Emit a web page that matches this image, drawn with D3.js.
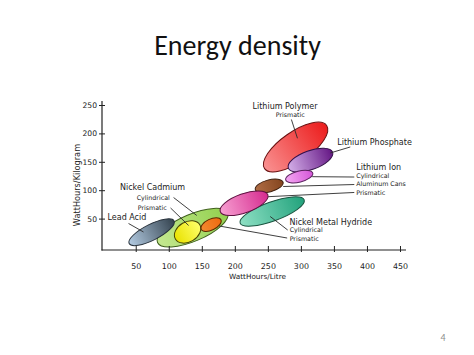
<!DOCTYPE html>
<html>
<head>
<meta charset="utf-8">
<script src="https://cdn.jsdelivr.net/npm/d3@7"></script>
<style>
  html, body { margin: 0; padding: 0; background: #fff; }
  svg { display: block; }
  text { font-family: "DejaVu Sans", sans-serif; fill: #222; }
</style>
</head>
<body>
<svg id="chart" width="474" height="355"></svg>
<script>
// ---- data (Wh/L on x, Wh/kg on y) ----
const xTicks = [50, 100, 150, 200, 250, 300, 350, 400, 450];
const yTicks = [50, 100, 150, 200, 250];

// each ellipse: major-axis endpoints [Wh/L low, high], [Wh/kg low, high], half-thickness (Wh/kg)
const ellipseNames = ["Nickel Cadmium", "Lead Acid", "NiCd Cylindrical", "NiCd Prismatic",
  "Nickel Metal Hydride", "Li-ion Aluminum Cans", "Li-ion Prismatic", "Lithium Polymer",
  "Lithium Phosphate", "Li-ion Cylindrical"];
const ellipseWhL  = [[83, 189], [40, 108], [110, 147], [149, 179], [208, 305], [231, 273], [178, 250], [245, 339], [281, 348], [277, 318]];
const ellipseWhKg = [[8, 60], [6, 46], [14, 39], [31, 48], [42, 83], [101, 114], [62, 92], [138, 214], [139, 167], [118, 130]];
const ellipseHalfWidth = [23.8, 14, 17.6, 9.7, 16.7, 10.6, 16.7, 26.4, 16.7, 9.7];

// label texts with anchor positions in data units
const labelTexts = ["Lithium Polymer", "Lithium Phosphate", "Lithium Ion", "Nickel Metal Hydride", "Nickel Cadmium", "Lead Acid"];
const labelAt = [[226.8, 243.8], [355, 178.7], [383.8, 135.6], [282.7, 38.7], [26.2, 100.4], [7.3, 46.7]];
const subTexts = ["Prismatic", "Cylindrical", "Aluminum Cans", "Prismatic", "Cylindrical", "Prismatic", "Cylindrical", "Prismatic"];
const subAt = [[262, 228.9], [383.8, 121.1], [383.8, 106.9], [383.8, 92.4], [283, 25.9], [283, 11.4], [51.5, 83.6], [53, 66]];
// leader lines: [fromWhL, fromWhKg, toWhL, toWhKg]
const leaders = [
  [285.6, 224.5, 294.8, 191.4],
  [344.4, 165.5, 374.7, 176.1],
  [317.1, 123.8, 380.8, 123.2],
  [273.2, 106.5, 380.8, 110],
  [250.5, 88.6, 380.8, 96],
  [253.5, 53.7, 280, 29.9],
  [176.2, 37, 279.2, 15.8],
  [107.3, 87.1, 142.4, 55.5],
  [102.7, 68.7, 130, 37.9],
  [39.1, 41.4, 61.8, 26.4]
];

// ---- styles ----
const fills = [
  ["#c4e890", "#92d04e"], ["#b3cbe2", "#34434f"], ["#e9e200", "#ffff6a"], ["#f28a30", "#ee6a10"],
  ["#8ee0c4", "#22a27c"], ["#b06d45", "#84451f"], ["#f7a0d2", "#d62b8f"], ["#f99090", "#ec1c1c"],
  ["#d3aee8", "#641684"], ["#f4a8f2", "#d456d8"]
];
const strokes = ["#3f5f1c", "#28323c", "#4a4500", "#5a2800", "#17533f", "#3e2010", "#5e1040", "#6a1010", "#33104a", "#5a205e"];

const svg = d3.select("#chart");
const x = d3.scaleLinear().domain([0, 450]).range([102.7, 400]);
const y = d3.scaleLinear().domain([0, 250]).range([247, 105]);
const axisY = 250;

// title
svg.append("text").attr("x", 237.5).attr("y", 55).attr("text-anchor", "middle")
  .style("font-family", "Carlito, 'Liberation Sans', Arial, sans-serif").style("font-size", "28px").style("fill", "#111")
  .text("Energy density");
svg.append("text").attr("x", 443).attr("y", 341).attr("text-anchor", "middle")
  .style("font-family", "Carlito, 'Liberation Sans', Arial, sans-serif").style("font-size", "10px").style("fill", "#8c8c8c")
  .text("4");

// gradients
const defs = svg.append("defs");
fills.forEach((f, i) => {
  const g = defs.append("linearGradient").attr("id", "g" + i).attr("x1", 0).attr("x2", 1).attr("y1", 0).attr("y2", 0);
  g.append("stop").attr("offset", "0%").attr("stop-color", f[0]);
  g.append("stop").attr("offset", "100%").attr("stop-color", f[1]);
});

// ellipses
const plot = svg.append("g");
ellipseNames.forEach((n, i) => {
  const x1 = x(ellipseWhL[i][0]), x2 = x(ellipseWhL[i][1]);
  const y1 = y(ellipseWhKg[i][0]), y2 = y(ellipseWhKg[i][1]);
  const cx = (x1 + x2) / 2, cy = (y1 + y2) / 2;
  const rx = Math.hypot(x2 - x1, y2 - y1) / 2;
  const ang = Math.atan2(y2 - y1, x2 - x1) * 180 / Math.PI;
  const ry = y(0) - y(ellipseHalfWidth[i]);
  plot.append("g").attr("transform", `translate(${cx},${cy}) rotate(${ang})`)
    .append("ellipse").attr("rx", rx).attr("ry", ry)
    .attr("fill", `url(#g${i})`).attr("stroke", strokes[i]).attr("stroke-width", 1);
});

// leader lines
svg.append("g").selectAll("line").data(leaders).join("line")
  .attr("x1", d => x(d[0])).attr("y1", d => y(d[1]))
  .attr("x2", d => x(d[2])).attr("y2", d => y(d[3]))
  .attr("stroke", "#2a2a2a").attr("stroke-width", 0.9);

// labels
svg.append("g").selectAll("text").data(labelTexts).join("text")
  .attr("x", (d, i) => x(labelAt[i][0])).attr("y", (d, i) => y(labelAt[i][1]))
  .style("font-size", "8px").text(d => d);
svg.append("g").selectAll("text").data(subTexts).join("text")
  .attr("x", (d, i) => x(subAt[i][0])).attr("y", (d, i) => y(subAt[i][1]))
  .style("font-size", "6.3px").style("fill", "#1a1a1a").text(d => d);

// axes
const xAxis = d3.axisBottom(x).tickValues(xTicks).tickSize(4).tickPadding(9);
const gx = svg.append("g").attr("transform", `translate(0,${axisY})`).call(xAxis);
gx.select(".domain").remove();
gx.selectAll(".tick line").attr("y1", -4).attr("y2", 2).attr("stroke", "#222");
gx.selectAll(".tick text").style("font-family", "'DejaVu Sans', sans-serif").style("font-size", "7.9px").attr("fill", "#222");
svg.append("line").attr("x1", 101.5).attr("x2", 406).attr("y1", axisY).attr("y2", axisY).attr("stroke", "#222").attr("stroke-width", 1.2);

const yAxis = d3.axisLeft(y).tickValues(yTicks).tickSize(3).tickPadding(2);
const gy = svg.append("g").attr("transform", `translate(102,0)`).call(yAxis);
gy.select(".domain").remove();
gy.selectAll(".tick line").attr("x1", -3).attr("x2", 3).attr("stroke", "#222");
gy.selectAll(".tick text").style("font-family", "'DejaVu Sans', sans-serif").style("font-size", "7.6px").attr("fill", "#222");
svg.append("line").attr("x1", 102).attr("x2", 102).attr("y1", 101).attr("y2", axisY + 0.6).attr("stroke", "#222").attr("stroke-width", 1.2);

// axis titles
svg.append("text").attr("x", 257.5).attr("y", 279).attr("text-anchor", "middle")
  .style("font-size", "7.3px").text("WattHours/Litre");
svg.append("text").attr("transform", "translate(80,185) rotate(-90)").attr("text-anchor", "middle")
  .style("font-size", "8.2px").text("WattHours/Kilogram");
</script>
</body>
</html>
